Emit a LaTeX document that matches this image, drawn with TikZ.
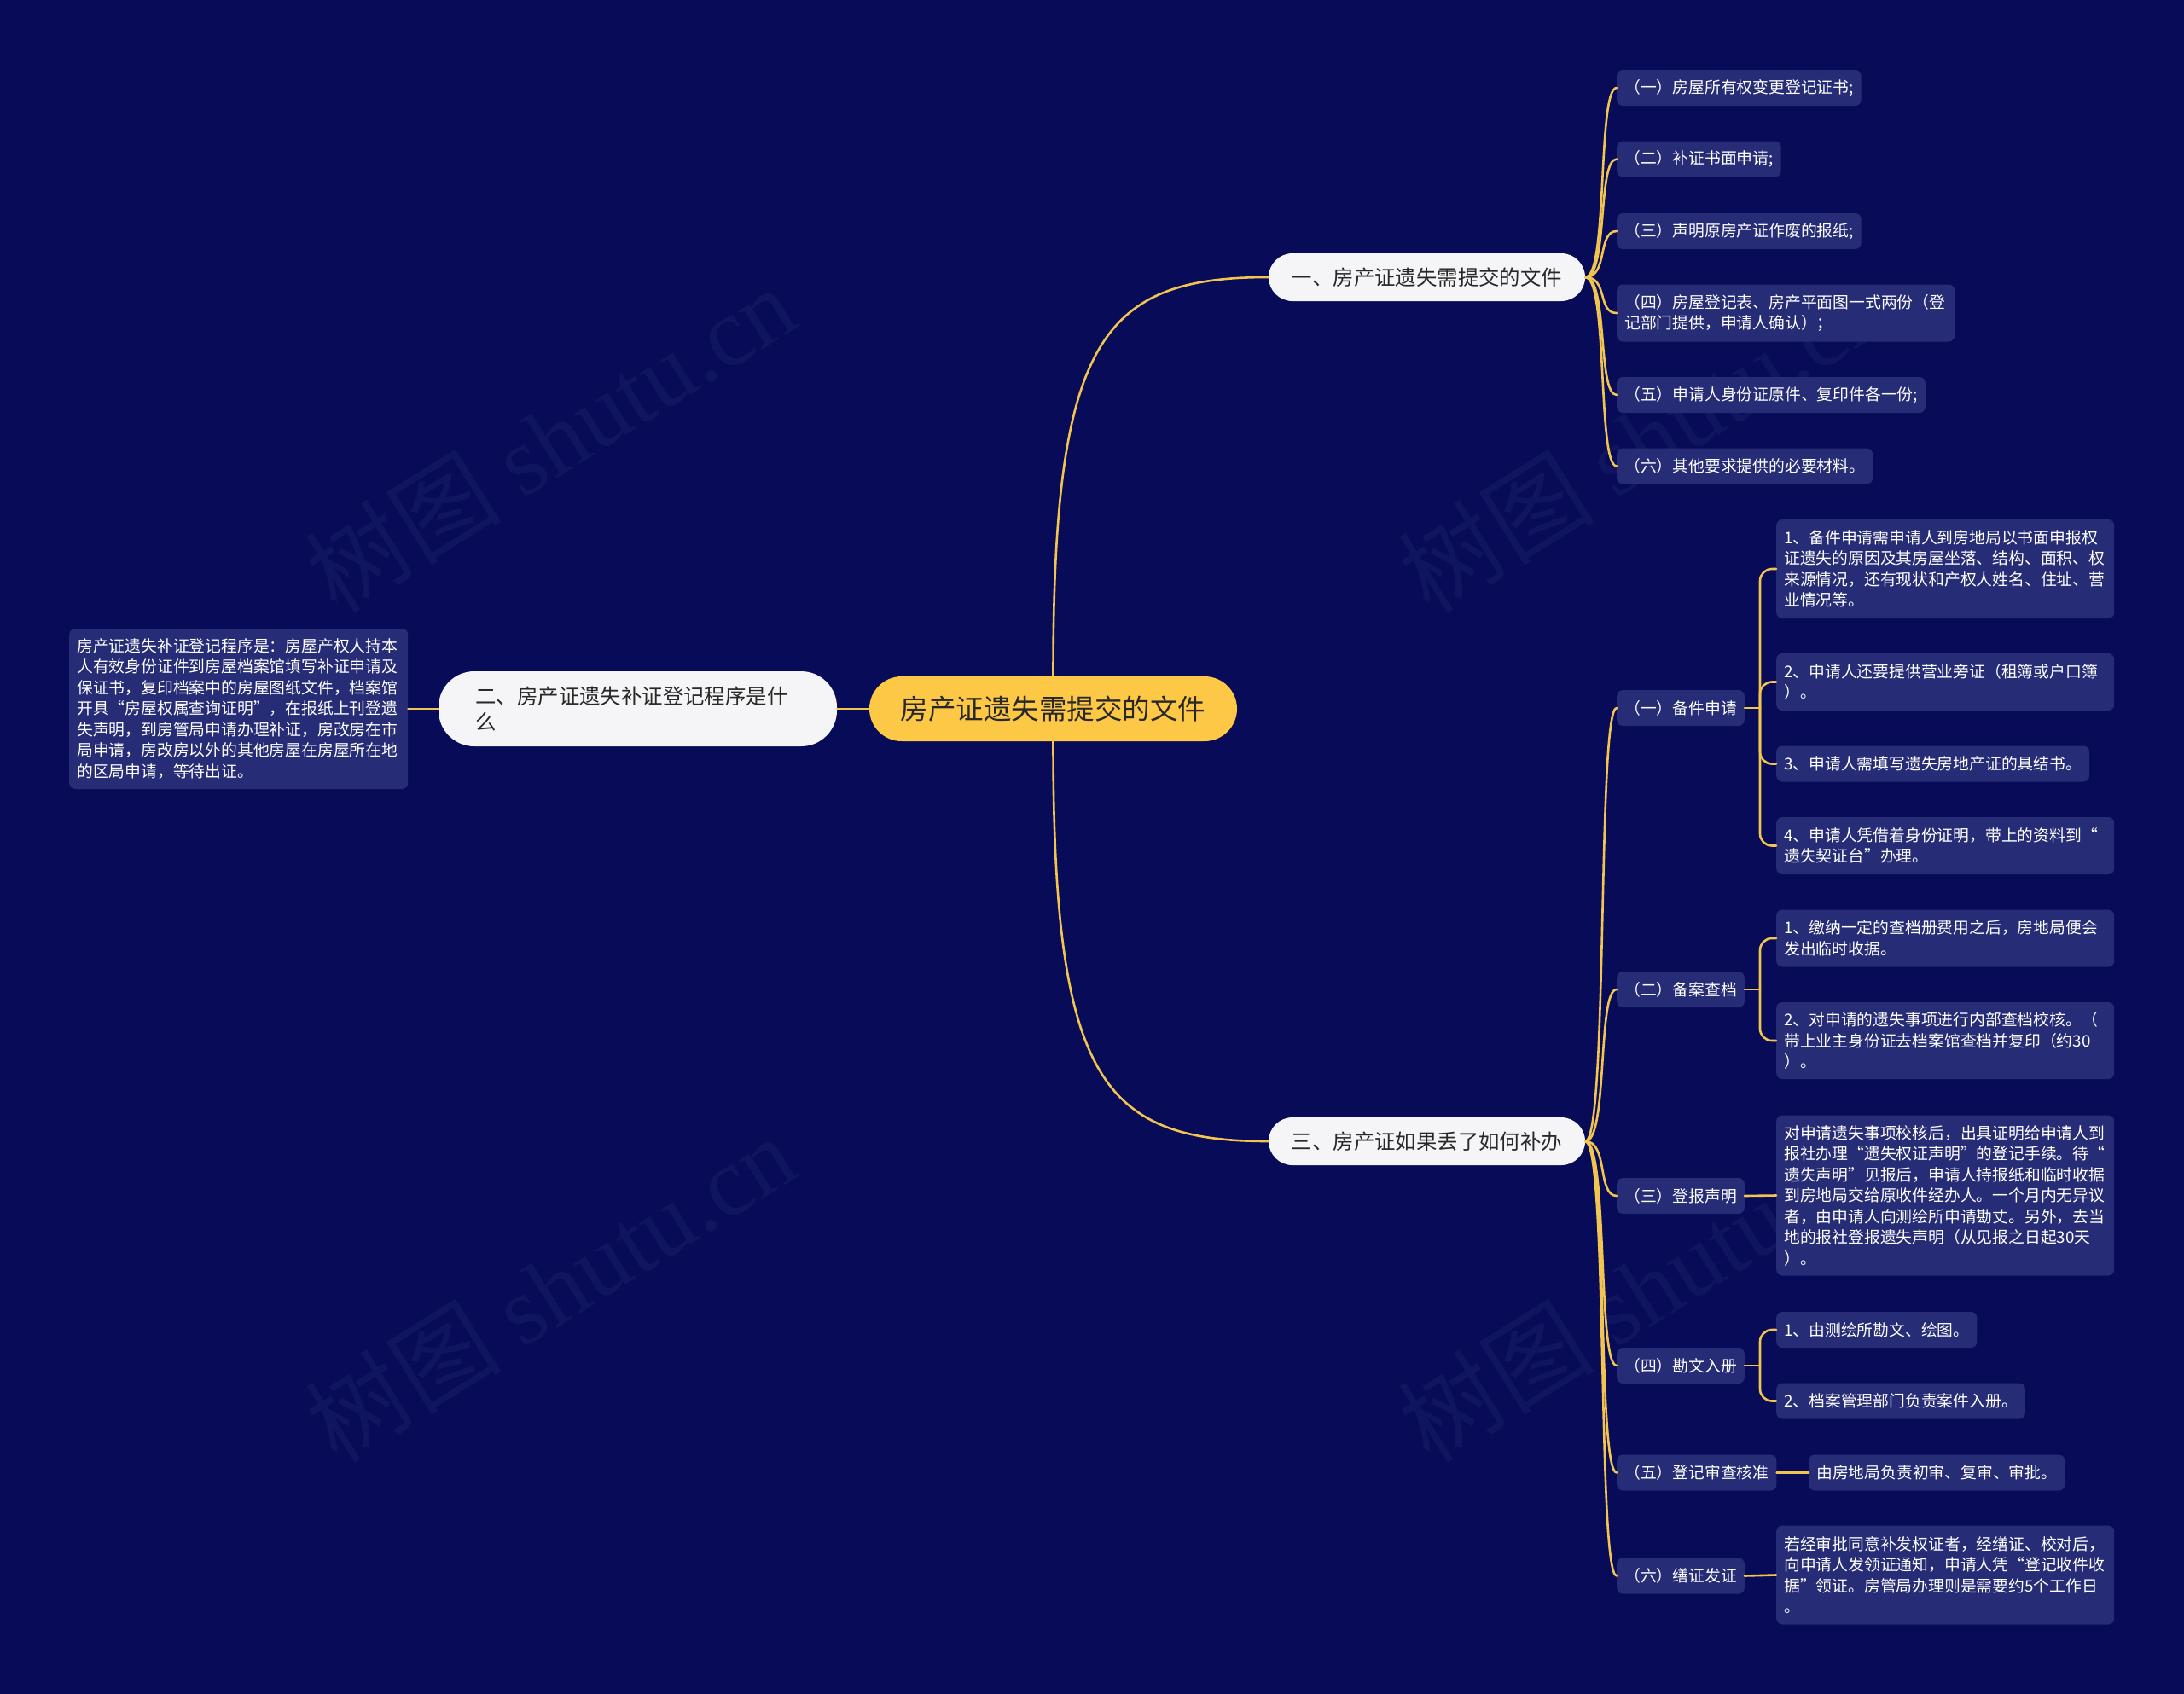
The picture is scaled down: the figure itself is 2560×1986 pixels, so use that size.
\documentclass[tikz,border=0pt]{standalone}
\usepackage{fontspec}
\setmainfont{Noto Sans CJK SC}
\newfontfamily\wmfont{Liberation Serif}
\usetikzlibrary{calc}
\definecolor{bg}{RGB}{8,12,88}
\definecolor{leaf}{RGB}{38,44,118}
\definecolor{gold}{RGB}{242,196,80}
\definecolor{cyellow}{RGB}{253,200,70}
\definecolor{pill}{RGB}{245,245,247}
\definecolor{txtdark}{RGB}{40,40,40}
\definecolor{wm}{RGB}{16,21,95}
\tikzset{
  link/.style={draw=gold, line width=2.6, line cap=round},
  leafbox/.style={fill=leaf, rounded corners=7, text=white, font=\fontsize{18.8}{24.5}\selectfont, inner xsep=9, inner ysep=0, align=left, anchor=west, minimum height=42},
  ltwo/.style={minimum height=67},
  lthree/.style={minimum height=90},
  lfour/.style={minimum height=116},
  lseven/.style={minimum height=188},
  wide/.style={text width=378},
  mainbox/.style={fill=pill, rounded corners=28, text=txtdark, font=\fontsize{24.4}{30}\selectfont, minimum height=56, minimum width=371, inner xsep=0, inner ysep=0},
  rootbox/.style={fill=cyellow, rounded corners=38, text=txtdark, font=\fontsize{32.5}{38}\selectfont, minimum height=76, minimum width=431, inner xsep=0, inner ysep=0},
  wmark/.style={text=wm, rotate=32, font=\fontsize{115}{120}\selectfont, inner sep=0}
}
\begin{document}
\begin{tikzpicture}[x=1pt,y=-1pt]
\fill[bg] (0,0) rectangle (2560,1986);
\useasboundingbox (0,0) rectangle (2560,1986);
% watermarks
\node[wmark] (w1) at (645,514) {树图 {\wmfont shutu.cn}};
\node[wmark] (w2) at (645,1510) {树图 {\wmfont shutu.cn}};
\node[wmark] (w3) at (1926,514) {树图 {\wmfont shutu.cn}};
\node[wmark] (w4) at (1926,1510) {树图 {\wmfont shutu.cn}};

% root and main branches
\node[rootbox] (root) at (1234.5,831) {房产证遗失需提交的文件};
\node[mainbox] (b1) at (1672.5,325) {一、房产证遗失需提交的文件};
\node[mainbox] (b3) at (1672.5,1338) {三、房产证如果丢了如何补办};
\node[mainbox, rounded corners=42, minimum height=88, text width=380, inner xsep=43.5, align=left] (b2) at (747.5,831) {二、房产证遗失补证登记程序是什\\么};
\node[leafbox, text width=379, lseven] (t2) at (81,831) {房产证遗失补证登记程序是：房屋产权人持本\\人有效身份证件到房屋档案馆填写补证申请及\\保证书，复印档案中的房屋图纸文件，档案馆\\开具“房屋权属查询证明”，在报纸上刊登遗\\失声明，到房管局申请办理补证，房改房在市\\局申请，房改房以外的其他房屋在房屋所在地\\的区局申请，等待出证。};

% branch one leaves
\node[leafbox] (a1) at (1895,103) {（一）房屋所有权变更登记证书;};
\node[leafbox] (a2) at (1895,186.5) {（二）补证书面申请;};
\node[leafbox] (a3) at (1895,271) {（三）声明原房产证作废的报纸;};
\node[leafbox, ltwo, wide] (a4) at (1895,367) {（四）房屋登记表、房产平面图一式两份（登\\记部门提供，申请人确认）；};
\node[leafbox] (a5) at (1895,463) {（五）申请人身份证原件、复印件各一份;};
\node[leafbox] (a6) at (1895,546.5) {（六）其他要求提供的必要材料。};

% branch three sub nodes
\node[leafbox] (s1) at (1895,830) {（一）备件申请};
\node[leafbox] (s2) at (1895,1160) {（二）备案查档};
\node[leafbox] (s3) at (1895,1402) {（三）登报声明};
\node[leafbox] (s4) at (1895,1601) {（四）勘文入册};
\node[leafbox] (s5) at (1895,1726.5) {（五）登记审查核准};
\node[leafbox] (s6) at (1895,1847.5) {（六）缮证发证};

% children
\node[leafbox, lfour, wide] (c11) at (2082,667) {1、备件申请需申请人到房地局以书面申报权\\证遗失的原因及其房屋坐落、结构、面积、权\\来源情况，还有现状和产权人姓名、住址、营\\业情况等。};
\node[leafbox, ltwo, wide] (c12) at (2082,799.5) {2、申请人还要提供营业旁证（租簿或户口簿\\）。};
\node[leafbox] (c13) at (2082,895.5) {3、申请人需填写遗失房地产证的具结书。};
\node[leafbox, ltwo, wide] (c14) at (2082,991.5) {4、申请人凭借着身份证明，带上的资料到“\\遗失契证台”办理。};
\node[leafbox, ltwo, wide] (c21) at (2082,1100) {1、缴纳一定的查档册费用之后，房地局便会\\发出临时收据。};
\node[leafbox, lthree, wide] (c22) at (2082,1220) {2、对申请的遗失事项进行内部查档校核。（\\带上业主身份证去档案馆查档并复印（约30\\）。};
\node[leafbox, lseven, wide] (c31) at (2082,1401.5) {对申请遗失事项校核后，出具证明给申请人到\\报社办理“遗失权证声明”的登记手续。待“\\遗失声明”见报后，申请人持报纸和临时收据\\到房地局交给原收件经办人。一个月内无异议\\者，由申请人向测绘所申请勘丈。另外，去当\\地的报社登报遗失声明（从见报之日起30天\\）。};
\node[leafbox] (c41) at (2082,1559) {1、由测绘所勘文、绘图。};
\node[leafbox] (c42) at (2082,1642.5) {2、档案管理部门负责案件入册。};
\node[leafbox] (c51) at (2120,1726.5) {由房地局负责初审、复审、审批。};
\node[leafbox, lfour, wide] (c61) at (2082,1846.5) {若经审批同意补发权证者，经缮证、校对后，\\向申请人发领证通知，申请人凭“登记收件收\\据”领证。房管局办理则是需要约5个工作日\\。};

% connectors: root
\draw[link] (root.west) -- (b2.east);
\draw[link] (b2.west) -- (t2.east);
\draw[link] (root.north) .. controls (1234.5,400) and (1290,325) .. (b1.west);
\draw[link] (root.south) .. controls (1234.5,1263) and (1290,1338) .. (b3.west);

% branch one to leaves
\foreach \n in {a1,a2,a3,a4,a5,a6}{
  \draw[link] (b1.east) .. controls ($(b1.east)+(27,0)$) and ($(\n.west)+(-23,0)$) .. (\n.west);
}
% branch three to sub nodes
\foreach \n in {s1,s2,s3,s4,s5,s6}{
  \draw[link] (b3.east) .. controls ($(b3.east)+(27,0)$) and ($(\n.west)+(-23,0)$) .. (\n.west);
}

% brackets
\coordinate (j1) at ($(s1.east)+(18,0)$);
\coordinate (j2) at ($(s2.east)+(18,0)$);
\coordinate (j4) at ($(s4.east)+(18,0)$);
\draw[link] (s1.east) -- (j1);
\draw[link] (s2.east) -- (j2);
\draw[link] (s4.east) -- (j4);
\foreach \c in {c11,c12,c13,c14}{
  \draw[link, rounded corners=14] (j1) -- (j1 |- \c.west) -- (\c.west);
}
\foreach \c in {c21,c22}{
  \draw[link, rounded corners=14] (j2) -- (j2 |- \c.west) -- (\c.west);
}
\foreach \c in {c41,c42}{
  \draw[link, rounded corners=14] (j4) -- (j4 |- \c.west) -- (\c.west);
}
\draw[link] (s3.east) -- (c31.west);
\draw[link] (s5.east) -- (c51.west);
\draw[link] (s6.east) -- (c61.west);
\end{tikzpicture}
\end{document}
